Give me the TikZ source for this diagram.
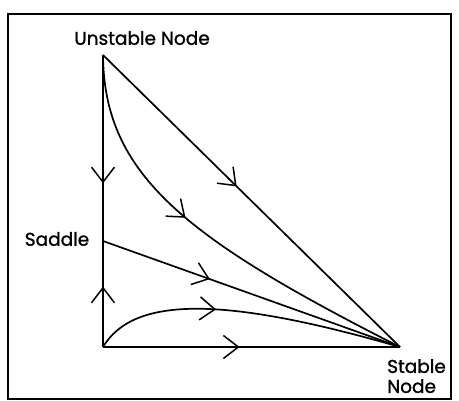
\documentclass[tikz,border=0pt]{standalone}
\usepackage{fontspec}
\setmainfont{Poppins}[FakeBold=1.2]
\usetikzlibrary{arrows.meta,decorations.markings}
\tikzset{
  traj/.style={line width=1.7pt, line join=round},
  midarrow/.style={postaction={decorate},decoration={markings,
     mark=at position #1 with {\arrow{Straight Barb[length=15pt,width=23pt,line width=1.5pt]}}}},
  lbl/.style={font=\fontsize{18.5}{20}\selectfont, inner sep=0pt}
}
\begin{document}
\begin{tikzpicture}[x=1pt,y=-1pt]
\useasboundingbox (0,0) rectangle (459,400);
\draw[line width=1.6pt] (8,399) -- (8,14) -- (451,14) -- (451,399) -- cycle;
% points
\coordinate (U) at (103,55);
\coordinate (Sd) at (103,241);
\coordinate (O) at (103,347);
\coordinate (St) at (400,347);
% labels
\node[lbl] (lu) at (142,38) {Unstable Node};
\node[lbl] (ls) at (57,239) {Saddle};
\node[lbl, align=left, anchor=north west, font=\fontsize{18.5}{20}\selectfont] (lst) at (387,359) {Stable\\Node};
% trajectories
\draw[traj, midarrow=0.69] (U) -- (Sd);
\draw[traj, midarrow=0.57] (O) -- (Sd);
\draw[traj, midarrow=0.45] (U) -- (St);
\draw[traj, midarrow=0.36] (Sd) -- (St);
\draw[traj, midarrow=0.46] (O) -- (St);
\draw[traj, midarrow=0.43] (U) .. controls (104,175) and (185,238) .. (St);
\draw[traj, midarrow=0.40] (O) .. controls (133,297) and (220,295) .. (St);
\end{tikzpicture}
\end{document}
